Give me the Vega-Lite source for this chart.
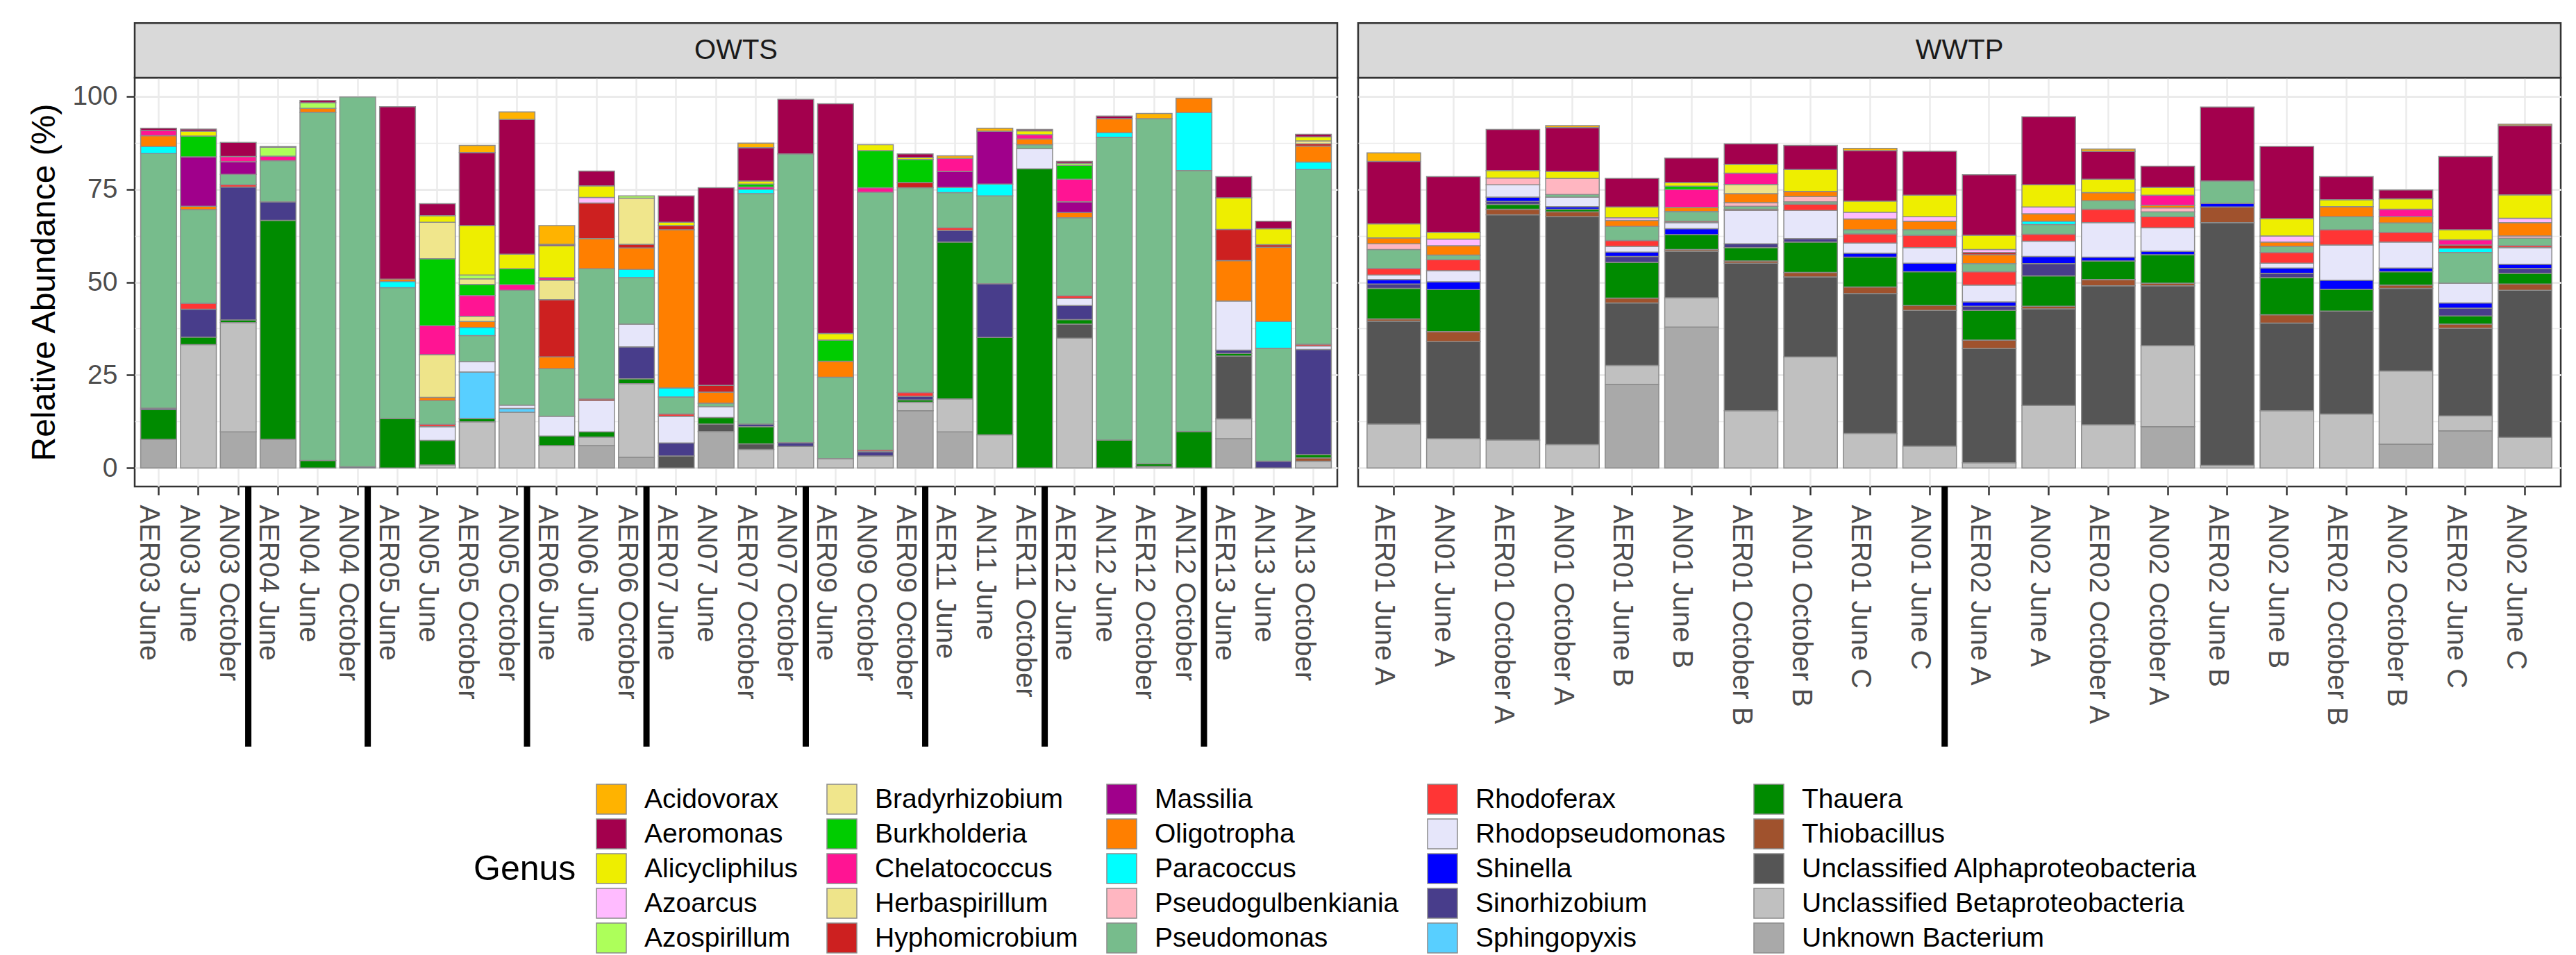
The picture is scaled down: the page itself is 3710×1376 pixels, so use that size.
{
"$schema": "https://vega.github.io/schema/vega-lite/v6.json",
"background": "white",
"padding": {"left": 39, "top": 30, "right": 10, "bottom": 10},
"config": {
 "font": "Liberation Sans",
 "view": {"stroke": "#333333", "strokeWidth": 2.5},
 "axis": {"domain": false, "grid": true, "gridColor": "#EBEBEB", "tickColor": "#333333", "tickWidth": 2.5, "tickSize": 12, "labelColor": "#4D4D4D", "labelFontSize": 39}
},
"datasets": {
"owts": [
{"Sample":"AER03 June","Genus":"Unknown Bacterium","Value":7.7},{"Sample":"AER03 June","Genus":"Thauera","Value":8.0},{"Sample":"AER03 June","Genus":"Sinorhizobium","Value":0.4},{"Sample":"AER03 June","Genus":"Pseudomonas","Value":68.5},{"Sample":"AER03 June","Genus":"Paracoccus","Value":1.9},{"Sample":"AER03 June","Genus":"Oligotropha","Value":2.9},{"Sample":"AER03 June","Genus":"Chelatococcus","Value":1.4},{"Sample":"AER03 June","Genus":"Aeromonas","Value":0.6},
{"Sample":"AN03 June","Genus":"Unclassified Betaproteobacteria","Value":33.2},{"Sample":"AN03 June","Genus":"Thauera","Value":2.0},{"Sample":"AN03 June","Genus":"Sinorhizobium","Value":7.5},{"Sample":"AN03 June","Genus":"Rhodoferax","Value":1.6},{"Sample":"AN03 June","Genus":"Pseudomonas","Value":25.2},{"Sample":"AN03 June","Genus":"Oligotropha","Value":0.9},{"Sample":"AN03 June","Genus":"Massilia","Value":13.3},{"Sample":"AN03 June","Genus":"Burkholderia","Value":5.6},{"Sample":"AN03 June","Genus":"Alicycliphilus","Value":1.3},{"Sample":"AN03 June","Genus":"Aeromonas","Value":0.6},
{"Sample":"AN03 October","Genus":"Unknown Bacterium","Value":9.7},{"Sample":"AN03 October","Genus":"Unclassified Betaproteobacteria","Value":29.4},{"Sample":"AN03 October","Genus":"Thauera","Value":0.7},{"Sample":"AN03 October","Genus":"Sinorhizobium","Value":35.8},{"Sample":"AN03 October","Genus":"Rhodoferax","Value":0.6},{"Sample":"AN03 October","Genus":"Pseudomonas","Value":2.8},{"Sample":"AN03 October","Genus":"Massilia","Value":3.4},{"Sample":"AN03 October","Genus":"Chelatococcus","Value":1.4},{"Sample":"AN03 October","Genus":"Aeromonas","Value":3.8},
{"Sample":"AER04 June","Genus":"Unknown Bacterium","Value":7.7},{"Sample":"AER04 June","Genus":"Thauera","Value":58.9},{"Sample":"AER04 June","Genus":"Sinorhizobium","Value":5.0},{"Sample":"AER04 June","Genus":"Pseudomonas","Value":11.1},{"Sample":"AER04 June","Genus":"Chelatococcus","Value":1.2},{"Sample":"AER04 June","Genus":"Azospirillum","Value":2.4},{"Sample":"AER04 June","Genus":"Aeromonas","Value":0.2},
{"Sample":"AN04 June","Genus":"Thauera","Value":2.0},{"Sample":"AN04 June","Genus":"Pseudomonas","Value":93.7},{"Sample":"AN04 June","Genus":"Oligotropha","Value":1.1},{"Sample":"AN04 June","Genus":"Azospirillum","Value":1.5},{"Sample":"AN04 June","Genus":"Aeromonas","Value":0.6},
{"Sample":"AN04 October","Genus":"Sinorhizobium","Value":0.3},{"Sample":"AN04 October","Genus":"Pseudomonas","Value":99.5},
{"Sample":"AER05 June","Genus":"Thauera","Value":13.3},{"Sample":"AER05 June","Genus":"Pseudomonas","Value":35.2},{"Sample":"AER05 June","Genus":"Paracoccus","Value":1.7},{"Sample":"AER05 June","Genus":"Oligotropha","Value":0.6},{"Sample":"AER05 June","Genus":"Aeromonas","Value":46.4},
{"Sample":"AN05 June","Genus":"Unclassified Betaproteobacteria","Value":0.8},{"Sample":"AN05 June","Genus":"Thauera","Value":6.6},{"Sample":"AN05 June","Genus":"Rhodopseudomonas","Value":3.7},{"Sample":"AN05 June","Genus":"Rhodoferax","Value":0.6},{"Sample":"AN05 June","Genus":"Pseudomonas","Value":6.4},{"Sample":"AN05 June","Genus":"Oligotropha","Value":0.9},{"Sample":"AN05 June","Genus":"Herbaspirillum","Value":11.5},{"Sample":"AN05 June","Genus":"Chelatococcus","Value":7.8},{"Sample":"AN05 June","Genus":"Burkholderia","Value":18.0},{"Sample":"AN05 June","Genus":"Bradyrhizobium","Value":9.8},{"Sample":"AN05 June","Genus":"Alicycliphilus","Value":1.8},{"Sample":"AN05 June","Genus":"Aeromonas","Value":3.2},
{"Sample":"AER05 October","Genus":"Unclassified Betaproteobacteria","Value":12.4},{"Sample":"AER05 October","Genus":"Thauera","Value":0.9},{"Sample":"AER05 October","Genus":"Sphingopyxis","Value":12.5},{"Sample":"AER05 October","Genus":"Rhodopseudomonas","Value":2.8},{"Sample":"AER05 October","Genus":"Pseudomonas","Value":7.0},{"Sample":"AER05 October","Genus":"Paracoccus","Value":2.2},{"Sample":"AER05 October","Genus":"Oligotropha","Value":1.6},{"Sample":"AER05 October","Genus":"Herbaspirillum","Value":1.4},{"Sample":"AER05 October","Genus":"Chelatococcus","Value":5.6},{"Sample":"AER05 October","Genus":"Burkholderia","Value":3.0},{"Sample":"AER05 October","Genus":"Bradyrhizobium","Value":1.5},{"Sample":"AER05 October","Genus":"Azospirillum","Value":1.0},{"Sample":"AER05 October","Genus":"Alicycliphilus","Value":13.3},{"Sample":"AER05 October","Genus":"Aeromonas","Value":19.7},{"Sample":"AER05 October","Genus":"Acidovorax","Value":1.9},
{"Sample":"AN05 October","Genus":"Unclassified Betaproteobacteria","Value":15.0},{"Sample":"AN05 October","Genus":"Sphingopyxis","Value":1.0},{"Sample":"AN05 October","Genus":"Rhodopseudomonas","Value":0.9},{"Sample":"AN05 October","Genus":"Pseudomonas","Value":30.9},{"Sample":"AN05 October","Genus":"Chelatococcus","Value":1.5},{"Sample":"AN05 October","Genus":"Burkholderia","Value":4.3},{"Sample":"AN05 October","Genus":"Alicycliphilus","Value":3.9},{"Sample":"AN05 October","Genus":"Aeromonas","Value":36.3},{"Sample":"AN05 October","Genus":"Acidovorax","Value":2.0},
{"Sample":"AER06 June","Genus":"Unclassified Betaproteobacteria","Value":6.0},{"Sample":"AER06 June","Genus":"Thauera","Value":2.6},{"Sample":"AER06 June","Genus":"Rhodopseudomonas","Value":5.3},{"Sample":"AER06 June","Genus":"Pseudomonas","Value":12.8},{"Sample":"AER06 June","Genus":"Oligotropha","Value":3.2},{"Sample":"AER06 June","Genus":"Hyphomicrobium","Value":15.4},{"Sample":"AER06 June","Genus":"Herbaspirillum","Value":5.2},{"Sample":"AER06 June","Genus":"Chelatococcus","Value":0.7},{"Sample":"AER06 June","Genus":"Alicycliphilus","Value":8.6},{"Sample":"AER06 June","Genus":"Aeromonas","Value":0.4},{"Sample":"AER06 June","Genus":"Acidovorax","Value":5.0},
{"Sample":"AN06 June","Genus":"Unknown Bacterium","Value":6.0},{"Sample":"AN06 June","Genus":"Unclassified Betaproteobacteria","Value":2.3},{"Sample":"AN06 June","Genus":"Thauera","Value":1.4},{"Sample":"AN06 June","Genus":"Rhodopseudomonas","Value":8.4},{"Sample":"AN06 June","Genus":"Rhodoferax","Value":0.5},{"Sample":"AN06 June","Genus":"Pseudomonas","Value":35.0},{"Sample":"AN06 June","Genus":"Oligotropha","Value":8.1},{"Sample":"AN06 June","Genus":"Hyphomicrobium","Value":9.6},{"Sample":"AN06 June","Genus":"Azoarcus","Value":1.5},{"Sample":"AN06 June","Genus":"Alicycliphilus","Value":3.1},{"Sample":"AN06 June","Genus":"Aeromonas","Value":4.0},
{"Sample":"AER06 October","Genus":"Unknown Bacterium","Value":2.9},{"Sample":"AER06 October","Genus":"Unclassified Betaproteobacteria","Value":19.8},{"Sample":"AER06 October","Genus":"Thauera","Value":1.3},{"Sample":"AER06 October","Genus":"Sinorhizobium","Value":8.6},{"Sample":"AER06 October","Genus":"Rhodopseudomonas","Value":6.1},{"Sample":"AER06 October","Genus":"Pseudomonas","Value":12.5},{"Sample":"AER06 October","Genus":"Paracoccus","Value":2.2},{"Sample":"AER06 October","Genus":"Oligotropha","Value":5.8},{"Sample":"AER06 October","Genus":"Hyphomicrobium","Value":1.0},{"Sample":"AER06 October","Genus":"Bradyrhizobium","Value":12.4},{"Sample":"AER06 October","Genus":"Azospirillum","Value":0.6},
{"Sample":"AER07 June","Genus":"Unclassified Alphaproteobacteria","Value":3.2},{"Sample":"AER07 June","Genus":"Sinorhizobium","Value":3.5},{"Sample":"AER07 June","Genus":"Rhodopseudomonas","Value":7.2},{"Sample":"AER07 June","Genus":"Rhodoferax","Value":0.6},{"Sample":"AER07 June","Genus":"Pseudomonas","Value":4.6},{"Sample":"AER07 June","Genus":"Paracoccus","Value":2.4},{"Sample":"AER07 June","Genus":"Oligotropha","Value":42.6},{"Sample":"AER07 June","Genus":"Hyphomicrobium","Value":1.1},{"Sample":"AER07 June","Genus":"Alicycliphilus","Value":0.9},{"Sample":"AER07 June","Genus":"Aeromonas","Value":7.1},
{"Sample":"AN07 June","Genus":"Unknown Bacterium","Value":9.8},{"Sample":"AN07 June","Genus":"Unclassified Alphaproteobacteria","Value":2.0},{"Sample":"AN07 June","Genus":"Thauera","Value":1.8},{"Sample":"AN07 June","Genus":"Rhodopseudomonas","Value":2.9},{"Sample":"AN07 June","Genus":"Pseudomonas","Value":0.9},{"Sample":"AN07 June","Genus":"Oligotropha","Value":3.0},{"Sample":"AN07 June","Genus":"Hyphomicrobium","Value":1.8},{"Sample":"AN07 June","Genus":"Aeromonas","Value":53.2},
{"Sample":"AER07 October","Genus":"Unclassified Betaproteobacteria","Value":5.0},{"Sample":"AER07 October","Genus":"Unclassified Alphaproteobacteria","Value":1.5},{"Sample":"AER07 October","Genus":"Thauera","Value":4.6},{"Sample":"AER07 October","Genus":"Sinorhizobium","Value":0.7},{"Sample":"AER07 October","Genus":"Pseudomonas","Value":62.0},{"Sample":"AER07 October","Genus":"Paracoccus","Value":1.2},{"Sample":"AER07 October","Genus":"Chelatococcus","Value":0.6},{"Sample":"AER07 October","Genus":"Burkholderia","Value":0.8},{"Sample":"AER07 October","Genus":"Alicycliphilus","Value":0.8},{"Sample":"AER07 October","Genus":"Aeromonas","Value":9.0},{"Sample":"AER07 October","Genus":"Acidovorax","Value":1.2},
{"Sample":"AN07 October","Genus":"Unclassified Betaproteobacteria","Value":5.8},{"Sample":"AN07 October","Genus":"Sinorhizobium","Value":1.0},{"Sample":"AN07 October","Genus":"Pseudomonas","Value":77.7},{"Sample":"AN07 October","Genus":"Aeromonas","Value":14.7},
{"Sample":"AER09 June","Genus":"Unclassified Betaproteobacteria","Value":2.5},{"Sample":"AER09 June","Genus":"Pseudomonas","Value":21.9},{"Sample":"AER09 June","Genus":"Oligotropha","Value":4.3},{"Sample":"AER09 June","Genus":"Burkholderia","Value":5.7},{"Sample":"AER09 June","Genus":"Alicycliphilus","Value":1.8},{"Sample":"AER09 June","Genus":"Aeromonas","Value":61.8},
{"Sample":"AN09 October","Genus":"Unclassified Betaproteobacteria","Value":3.2},{"Sample":"AN09 October","Genus":"Sinorhizobium","Value":1.2},{"Sample":"AN09 October","Genus":"Rhodoferax","Value":0.4},{"Sample":"AN09 October","Genus":"Pseudomonas","Value":69.4},{"Sample":"AN09 October","Genus":"Chelatococcus","Value":1.2},{"Sample":"AN09 October","Genus":"Burkholderia","Value":10.0},{"Sample":"AN09 October","Genus":"Alicycliphilus","Value":1.6},
{"Sample":"AER09 October","Genus":"Unknown Bacterium","Value":15.4},{"Sample":"AER09 October","Genus":"Unclassified Betaproteobacteria","Value":2.3},{"Sample":"AER09 October","Genus":"Thauera","Value":0.6},{"Sample":"AER09 October","Genus":"Sinorhizobium","Value":1.0},{"Sample":"AER09 October","Genus":"Rhodoferax","Value":1.0},{"Sample":"AER09 October","Genus":"Pseudomonas","Value":55.1},{"Sample":"AER09 October","Genus":"Hyphomicrobium","Value":1.4},{"Sample":"AER09 October","Genus":"Burkholderia","Value":6.2},{"Sample":"AER09 October","Genus":"Alicycliphilus","Value":0.5},{"Sample":"AER09 October","Genus":"Aeromonas","Value":1.0},
{"Sample":"AER11 June","Genus":"Unknown Bacterium","Value":9.7},{"Sample":"AER11 June","Genus":"Unclassified Betaproteobacteria","Value":8.9},{"Sample":"AER11 June","Genus":"Thauera","Value":42.2},{"Sample":"AER11 June","Genus":"Sinorhizobium","Value":3.1},{"Sample":"AER11 June","Genus":"Rhodoferax","Value":0.7},{"Sample":"AER11 June","Genus":"Pseudomonas","Value":9.5},{"Sample":"AER11 June","Genus":"Paracoccus","Value":1.4},{"Sample":"AER11 June","Genus":"Massilia","Value":4.3},{"Sample":"AER11 June","Genus":"Chelatococcus","Value":3.5},{"Sample":"AER11 June","Genus":"Acidovorax","Value":0.7},
{"Sample":"AN11 June","Genus":"Unclassified Betaproteobacteria","Value":8.9},{"Sample":"AN11 June","Genus":"Thauera","Value":26.2},{"Sample":"AN11 June","Genus":"Sinorhizobium","Value":14.5},{"Sample":"AN11 June","Genus":"Pseudomonas","Value":23.6},{"Sample":"AN11 June","Genus":"Paracoccus","Value":3.2},{"Sample":"AN11 June","Genus":"Massilia","Value":14.2},{"Sample":"AN11 June","Genus":"Acidovorax","Value":0.8},
{"Sample":"AER11 October","Genus":"Thauera","Value":80.5},{"Sample":"AER11 October","Genus":"Rhodopseudomonas","Value":5.4},{"Sample":"AER11 October","Genus":"Pseudomonas","Value":1.1},{"Sample":"AER11 October","Genus":"Oligotropha","Value":1.5},{"Sample":"AER11 October","Genus":"Chelatococcus","Value":1.2},{"Sample":"AER11 October","Genus":"Alicycliphilus","Value":1.0},{"Sample":"AER11 October","Genus":"Aeromonas","Value":0.4},
{"Sample":"AER12 June","Genus":"Unclassified Betaproteobacteria","Value":34.9},{"Sample":"AER12 June","Genus":"Unclassified Alphaproteobacteria","Value":3.8},{"Sample":"AER12 June","Genus":"Thauera","Value":1.2},{"Sample":"AER12 June","Genus":"Sinorhizobium","Value":3.8},{"Sample":"AER12 June","Genus":"Rhodopseudomonas","Value":1.9},{"Sample":"AER12 June","Genus":"Rhodoferax","Value":0.7},{"Sample":"AER12 June","Genus":"Pseudomonas","Value":21.0},{"Sample":"AER12 June","Genus":"Oligotropha","Value":1.4},{"Sample":"AER12 June","Genus":"Massilia","Value":2.9},{"Sample":"AER12 June","Genus":"Chelatococcus","Value":6.1},{"Sample":"AER12 June","Genus":"Burkholderia","Value":3.7},{"Sample":"AER12 June","Genus":"Azospirillum","Value":0.6},{"Sample":"AER12 June","Genus":"Aeromonas","Value":0.5},
{"Sample":"AN12 June","Genus":"Thauera","Value":7.5},{"Sample":"AN12 June","Genus":"Pseudomonas","Value":81.5},{"Sample":"AN12 June","Genus":"Paracoccus","Value":1.2},{"Sample":"AN12 June","Genus":"Oligotropha","Value":3.8},{"Sample":"AN12 June","Genus":"Aeromonas","Value":0.7},
{"Sample":"AER12 October","Genus":"Unclassified Betaproteobacteria","Value":0.4},{"Sample":"AER12 October","Genus":"Thauera","Value":0.7},{"Sample":"AER12 October","Genus":"Pseudomonas","Value":92.9},{"Sample":"AER12 October","Genus":"Acidovorax","Value":1.4},
{"Sample":"AN12 October","Genus":"Thauera","Value":9.8},{"Sample":"AN12 October","Genus":"Pseudomonas","Value":70.2},{"Sample":"AN12 October","Genus":"Paracoccus","Value":15.6},{"Sample":"AN12 October","Genus":"Oligotropha","Value":3.9},
{"Sample":"AER13 June","Genus":"Unknown Bacterium","Value":7.9},{"Sample":"AER13 June","Genus":"Unclassified Betaproteobacteria","Value":5.3},{"Sample":"AER13 June","Genus":"Unclassified Alphaproteobacteria","Value":16.9},{"Sample":"AER13 June","Genus":"Thauera","Value":0.7},{"Sample":"AER13 June","Genus":"Sinorhizobium","Value":0.9},{"Sample":"AER13 June","Genus":"Rhodopseudomonas","Value":13.2},{"Sample":"AER13 June","Genus":"Oligotropha","Value":10.9},{"Sample":"AER13 June","Genus":"Hyphomicrobium","Value":8.4},{"Sample":"AER13 June","Genus":"Alicycliphilus","Value":8.5},{"Sample":"AER13 June","Genus":"Aeromonas","Value":5.7},
{"Sample":"AN13 June","Genus":"Sinorhizobium","Value":1.8},{"Sample":"AN13 June","Genus":"Pseudomonas","Value":30.4},{"Sample":"AN13 June","Genus":"Paracoccus","Value":7.2},{"Sample":"AN13 June","Genus":"Oligotropha","Value":20.0},{"Sample":"AN13 June","Genus":"Hyphomicrobium","Value":0.7},{"Sample":"AN13 June","Genus":"Alicycliphilus","Value":4.3},{"Sample":"AN13 June","Genus":"Aeromonas","Value":2.0},
{"Sample":"AN13 October","Genus":"Unclassified Betaproteobacteria","Value":1.8},{"Sample":"AN13 October","Genus":"Thiobacillus","Value":0.9},{"Sample":"AN13 October","Genus":"Thauera","Value":0.9},{"Sample":"AN13 October","Genus":"Sinorhizobium","Value":28.3},{"Sample":"AN13 October","Genus":"Rhodopseudomonas","Value":0.9},{"Sample":"AN13 October","Genus":"Rhodoferax","Value":0.5},{"Sample":"AN13 October","Genus":"Pseudomonas","Value":47.0},{"Sample":"AN13 October","Genus":"Paracoccus","Value":2.0},{"Sample":"AN13 October","Genus":"Oligotropha","Value":4.3},{"Sample":"AN13 October","Genus":"Hyphomicrobium","Value":0.6},{"Sample":"AN13 October","Genus":"Bradyrhizobium","Value":0.8},{"Sample":"AN13 October","Genus":"Alicycliphilus","Value":1.1},{"Sample":"AN13 October","Genus":"Aeromonas","Value":0.7}
],
"wwtp": [
{"Sample":"AER01 June A","Genus":"Unclassified Betaproteobacteria","Value":11.8},{"Sample":"AER01 June A","Genus":"Unclassified Alphaproteobacteria","Value":27.7},{"Sample":"AER01 June A","Genus":"Thiobacillus","Value":0.6},{"Sample":"AER01 June A","Genus":"Thauera","Value":8.2},{"Sample":"AER01 June A","Genus":"Sinorhizobium","Value":1.2},{"Sample":"AER01 June A","Genus":"Shinella","Value":1.2},{"Sample":"AER01 June A","Genus":"Rhodopseudomonas","Value":1.2},{"Sample":"AER01 June A","Genus":"Rhodoferax","Value":1.8},{"Sample":"AER01 June A","Genus":"Pseudomonas","Value":5.1},{"Sample":"AER01 June A","Genus":"Pseudogulbenkiania","Value":1.5},{"Sample":"AER01 June A","Genus":"Oligotropha","Value":1.6},{"Sample":"AER01 June A","Genus":"Alicycliphilus","Value":3.8},{"Sample":"AER01 June A","Genus":"Aeromonas","Value":16.8},{"Sample":"AER01 June A","Genus":"Acidovorax","Value":2.3},
{"Sample":"AN01 June A","Genus":"Unclassified Betaproteobacteria","Value":7.9},{"Sample":"AN01 June A","Genus":"Unclassified Alphaproteobacteria","Value":26.1},{"Sample":"AN01 June A","Genus":"Thiobacillus","Value":2.7},{"Sample":"AN01 June A","Genus":"Thauera","Value":11.3},{"Sample":"AN01 June A","Genus":"Shinella","Value":2.1},{"Sample":"AN01 June A","Genus":"Rhodopseudomonas","Value":3.0},{"Sample":"AN01 June A","Genus":"Rhodoferax","Value":2.9},{"Sample":"AN01 June A","Genus":"Pseudomonas","Value":1.3},{"Sample":"AN01 June A","Genus":"Oligotropha","Value":2.5},{"Sample":"AN01 June A","Genus":"Azoarcus","Value":1.8},{"Sample":"AN01 June A","Genus":"Alicycliphilus","Value":1.8},{"Sample":"AN01 June A","Genus":"Aeromonas","Value":15.0},
{"Sample":"AER01 October A","Genus":"Unclassified Betaproteobacteria","Value":7.5},{"Sample":"AER01 October A","Genus":"Unclassified Alphaproteobacteria","Value":60.6},{"Sample":"AER01 October A","Genus":"Thiobacillus","Value":1.5},{"Sample":"AER01 October A","Genus":"Thauera","Value":1.3},{"Sample":"AER01 October A","Genus":"Sinorhizobium","Value":0.8},{"Sample":"AER01 October A","Genus":"Shinella","Value":1.2},{"Sample":"AER01 October A","Genus":"Rhodopseudomonas","Value":3.3},{"Sample":"AER01 October A","Genus":"Pseudogulbenkiania","Value":1.8},{"Sample":"AER01 October A","Genus":"Alicycliphilus","Value":2.0},{"Sample":"AER01 October A","Genus":"Aeromonas","Value":11.1},
{"Sample":"AN01 October A","Genus":"Unclassified Betaproteobacteria","Value":6.3},{"Sample":"AN01 October A","Genus":"Unclassified Alphaproteobacteria","Value":61.3},{"Sample":"AN01 October A","Genus":"Thiobacillus","Value":1.3},{"Sample":"AN01 October A","Genus":"Thauera","Value":0.7},{"Sample":"AN01 October A","Genus":"Shinella","Value":0.7},{"Sample":"AN01 October A","Genus":"Rhodopseudomonas","Value":2.6},{"Sample":"AN01 October A","Genus":"Pseudomonas","Value":0.7},{"Sample":"AN01 October A","Genus":"Pseudogulbenkiania","Value":4.3},{"Sample":"AN01 October A","Genus":"Alicycliphilus","Value":1.9},{"Sample":"AN01 October A","Genus":"Aeromonas","Value":11.8},{"Sample":"AN01 October A","Genus":"Acidovorax","Value":0.5},
{"Sample":"AER01 June B","Genus":"Unknown Bacterium","Value":22.5},{"Sample":"AER01 June B","Genus":"Unclassified Betaproteobacteria","Value":5.1},{"Sample":"AER01 June B","Genus":"Unclassified Alphaproteobacteria","Value":16.8},{"Sample":"AER01 June B","Genus":"Thiobacillus","Value":1.3},{"Sample":"AER01 June B","Genus":"Thauera","Value":9.6},{"Sample":"AER01 June B","Genus":"Sinorhizobium","Value":1.6},{"Sample":"AER01 June B","Genus":"Shinella","Value":1.2},{"Sample":"AER01 June B","Genus":"Rhodopseudomonas","Value":1.5},{"Sample":"AER01 June B","Genus":"Rhodoferax","Value":1.6},{"Sample":"AER01 June B","Genus":"Pseudomonas","Value":3.8},{"Sample":"AER01 June B","Genus":"Oligotropha","Value":1.6},{"Sample":"AER01 June B","Genus":"Azoarcus","Value":0.7},{"Sample":"AER01 June B","Genus":"Alicycliphilus","Value":2.9},{"Sample":"AER01 June B","Genus":"Aeromonas","Value":7.7},
{"Sample":"AN01 June B","Genus":"Unknown Bacterium","Value":37.9},{"Sample":"AN01 June B","Genus":"Unclassified Betaproteobacteria","Value":7.9},{"Sample":"AN01 June B","Genus":"Unclassified Alphaproteobacteria","Value":12.5},{"Sample":"AN01 June B","Genus":"Thiobacillus","Value":0.5},{"Sample":"AN01 June B","Genus":"Thauera","Value":4.0},{"Sample":"AN01 June B","Genus":"Shinella","Value":1.6},{"Sample":"AN01 June B","Genus":"Rhodopseudomonas","Value":1.6},{"Sample":"AN01 June B","Genus":"Rhodoferax","Value":0.4},{"Sample":"AN01 June B","Genus":"Pseudomonas","Value":2.6},{"Sample":"AN01 June B","Genus":"Oligotropha","Value":1.1},{"Sample":"AN01 June B","Genus":"Chelatococcus","Value":4.8},{"Sample":"AN01 June B","Genus":"Burkholderia","Value":0.9},{"Sample":"AN01 June B","Genus":"Alicycliphilus","Value":1.0},{"Sample":"AN01 June B","Genus":"Aeromonas","Value":6.6},
{"Sample":"AER01 October B","Genus":"Unclassified Betaproteobacteria","Value":15.4},{"Sample":"AER01 October B","Genus":"Unclassified Alphaproteobacteria","Value":39.7},{"Sample":"AER01 October B","Genus":"Thiobacillus","Value":0.6},{"Sample":"AER01 October B","Genus":"Thauera","Value":3.6},{"Sample":"AER01 October B","Genus":"Sinorhizobium","Value":1.0},{"Sample":"AER01 October B","Genus":"Rhodopseudomonas","Value":9.0},{"Sample":"AER01 October B","Genus":"Rhodoferax","Value":0.3},{"Sample":"AER01 October B","Genus":"Pseudomonas","Value":0.8},{"Sample":"AER01 October B","Genus":"Pseudogulbenkiania","Value":1.0},{"Sample":"AER01 October B","Genus":"Oligotropha","Value":2.4},{"Sample":"AER01 October B","Genus":"Herbaspirillum","Value":2.5},{"Sample":"AER01 October B","Genus":"Chelatococcus","Value":3.0},{"Sample":"AER01 October B","Genus":"Alicycliphilus","Value":2.4},{"Sample":"AER01 October B","Genus":"Aeromonas","Value":5.5},
{"Sample":"AN01 October B","Genus":"Unclassified Betaproteobacteria","Value":29.9},{"Sample":"AN01 October B","Genus":"Unclassified Alphaproteobacteria","Value":21.5},{"Sample":"AN01 October B","Genus":"Thiobacillus","Value":1.2},{"Sample":"AN01 October B","Genus":"Thauera","Value":8.2},{"Sample":"AN01 October B","Genus":"Sinorhizobium","Value":0.9},{"Sample":"AN01 October B","Genus":"Rhodopseudomonas","Value":7.6},{"Sample":"AN01 October B","Genus":"Rhodoferax","Value":1.7},{"Sample":"AN01 October B","Genus":"Pseudomonas","Value":0.6},{"Sample":"AN01 October B","Genus":"Pseudogulbenkiania","Value":1.4},{"Sample":"AN01 October B","Genus":"Oligotropha","Value":1.4},{"Sample":"AN01 October B","Genus":"Alicycliphilus","Value":5.9},{"Sample":"AN01 October B","Genus":"Aeromonas","Value":6.5},
{"Sample":"AER01 June C","Genus":"Unclassified Betaproteobacteria","Value":9.3},{"Sample":"AER01 June C","Genus":"Unclassified Alphaproteobacteria","Value":37.6},{"Sample":"AER01 June C","Genus":"Thiobacillus","Value":1.8},{"Sample":"AER01 June C","Genus":"Thauera","Value":8.0},{"Sample":"AER01 June C","Genus":"Shinella","Value":1.1},{"Sample":"AER01 June C","Genus":"Rhodopseudomonas","Value":2.7},{"Sample":"AER01 June C","Genus":"Rhodoferax","Value":2.5},{"Sample":"AER01 June C","Genus":"Pseudomonas","Value":1.1},{"Sample":"AER01 June C","Genus":"Oligotropha","Value":2.9},{"Sample":"AER01 June C","Genus":"Azoarcus","Value":1.8},{"Sample":"AER01 June C","Genus":"Alicycliphilus","Value":3.0},{"Sample":"AER01 June C","Genus":"Aeromonas","Value":13.6},{"Sample":"AER01 June C","Genus":"Acidovorax","Value":0.6},
{"Sample":"AN01 June C","Genus":"Unclassified Betaproteobacteria","Value":5.9},{"Sample":"AN01 June C","Genus":"Unclassified Alphaproteobacteria","Value":36.5},{"Sample":"AN01 June C","Genus":"Thiobacillus","Value":1.3},{"Sample":"AN01 June C","Genus":"Thauera","Value":9.1},{"Sample":"AN01 June C","Genus":"Shinella","Value":2.3},{"Sample":"AN01 June C","Genus":"Rhodopseudomonas","Value":4.2},{"Sample":"AN01 June C","Genus":"Rhodoferax","Value":3.3},{"Sample":"AN01 June C","Genus":"Pseudomonas","Value":1.5},{"Sample":"AN01 June C","Genus":"Oligotropha","Value":2.3},{"Sample":"AN01 June C","Genus":"Azoarcus","Value":1.2},{"Sample":"AN01 June C","Genus":"Alicycliphilus","Value":5.8},{"Sample":"AN01 June C","Genus":"Aeromonas","Value":11.8},
{"Sample":"AER02 June A","Genus":"Unclassified Betaproteobacteria","Value":1.4},{"Sample":"AER02 June A","Genus":"Unclassified Alphaproteobacteria","Value":30.7},{"Sample":"AER02 June A","Genus":"Thiobacillus","Value":2.3},{"Sample":"AER02 June A","Genus":"Thauera","Value":8.0},{"Sample":"AER02 June A","Genus":"Sinorhizobium","Value":1.1},{"Sample":"AER02 June A","Genus":"Shinella","Value":1.2},{"Sample":"AER02 June A","Genus":"Rhodopseudomonas","Value":4.5},{"Sample":"AER02 June A","Genus":"Rhodoferax","Value":3.6},{"Sample":"AER02 June A","Genus":"Pseudomonas","Value":2.2},{"Sample":"AER02 June A","Genus":"Oligotropha","Value":2.4},{"Sample":"AER02 June A","Genus":"Hyphomicrobium","Value":0.6},{"Sample":"AER02 June A","Genus":"Azoarcus","Value":0.8},{"Sample":"AER02 June A","Genus":"Alicycliphilus","Value":3.8},{"Sample":"AER02 June A","Genus":"Aeromonas","Value":16.3},
{"Sample":"AN02 June A","Genus":"Unclassified Betaproteobacteria","Value":16.8},{"Sample":"AN02 June A","Genus":"Unclassified Alphaproteobacteria","Value":26.0},{"Sample":"AN02 June A","Genus":"Thiobacillus","Value":0.7},{"Sample":"AN02 June A","Genus":"Thauera","Value":8.2},{"Sample":"AN02 June A","Genus":"Sinorhizobium","Value":3.3},{"Sample":"AN02 June A","Genus":"Shinella","Value":1.9},{"Sample":"AN02 June A","Genus":"Rhodopseudomonas","Value":4.1},{"Sample":"AN02 June A","Genus":"Rhodoferax","Value":1.9},{"Sample":"AN02 June A","Genus":"Pseudomonas","Value":2.6},{"Sample":"AN02 June A","Genus":"Paracoccus","Value":0.9},{"Sample":"AN02 June A","Genus":"Oligotropha","Value":2.0},{"Sample":"AN02 June A","Genus":"Azoarcus","Value":1.8},{"Sample":"AN02 June A","Genus":"Alicycliphilus","Value":6.0},{"Sample":"AN02 June A","Genus":"Aeromonas","Value":18.3},
{"Sample":"AER02 October A","Genus":"Unclassified Betaproteobacteria","Value":11.6},{"Sample":"AER02 October A","Genus":"Unclassified Alphaproteobacteria","Value":37.4},{"Sample":"AER02 October A","Genus":"Thiobacillus","Value":1.7},{"Sample":"AER02 October A","Genus":"Thauera","Value":5.0},{"Sample":"AER02 October A","Genus":"Shinella","Value":1.0},{"Sample":"AER02 October A","Genus":"Rhodopseudomonas","Value":9.3},{"Sample":"AER02 October A","Genus":"Rhodoferax","Value":3.6},{"Sample":"AER02 October A","Genus":"Pseudomonas","Value":2.3},{"Sample":"AER02 October A","Genus":"Oligotropha","Value":2.2},{"Sample":"AER02 October A","Genus":"Alicycliphilus","Value":3.6},{"Sample":"AER02 October A","Genus":"Aeromonas","Value":7.5},{"Sample":"AER02 October A","Genus":"Acidovorax","Value":0.6},
{"Sample":"AN02 October A","Genus":"Unknown Bacterium","Value":11.1},{"Sample":"AN02 October A","Genus":"Unclassified Betaproteobacteria","Value":21.8},{"Sample":"AN02 October A","Genus":"Unclassified Alphaproteobacteria","Value":16.1},{"Sample":"AN02 October A","Genus":"Thiobacillus","Value":0.7},{"Sample":"AN02 October A","Genus":"Thauera","Value":7.7},{"Sample":"AN02 October A","Genus":"Shinella","Value":0.9},{"Sample":"AN02 October A","Genus":"Rhodopseudomonas","Value":6.3},{"Sample":"AN02 October A","Genus":"Rhodoferax","Value":3.0},{"Sample":"AN02 October A","Genus":"Pseudomonas","Value":1.3},{"Sample":"AN02 October A","Genus":"Pseudogulbenkiania","Value":1.1},{"Sample":"AN02 October A","Genus":"Oligotropha","Value":0.7},{"Sample":"AN02 October A","Genus":"Chelatococcus","Value":2.7},{"Sample":"AN02 October A","Genus":"Alicycliphilus","Value":2.1},{"Sample":"AN02 October A","Genus":"Aeromonas","Value":5.7},
{"Sample":"AER02 June B","Genus":"Unclassified Betaproteobacteria","Value":0.7},{"Sample":"AER02 June B","Genus":"Unclassified Alphaproteobacteria","Value":65.3},{"Sample":"AER02 June B","Genus":"Thiobacillus","Value":4.2},{"Sample":"AER02 June B","Genus":"Shinella","Value":1.0},{"Sample":"AER02 June B","Genus":"Pseudomonas","Value":6.0},{"Sample":"AER02 June B","Genus":"Aeromonas","Value":19.9},
{"Sample":"AN02 June B","Genus":"Unclassified Betaproteobacteria","Value":15.4},{"Sample":"AN02 June B","Genus":"Unclassified Alphaproteobacteria","Value":23.6},{"Sample":"AN02 June B","Genus":"Thiobacillus","Value":2.2},{"Sample":"AN02 June B","Genus":"Thauera","Value":10.0},{"Sample":"AN02 June B","Genus":"Sinorhizobium","Value":1.2},{"Sample":"AN02 June B","Genus":"Shinella","Value":1.4},{"Sample":"AN02 June B","Genus":"Rhodopseudomonas","Value":1.3},{"Sample":"AN02 June B","Genus":"Rhodoferax","Value":2.9},{"Sample":"AN02 June B","Genus":"Pseudomonas","Value":1.6},{"Sample":"AN02 June B","Genus":"Oligotropha","Value":1.2},{"Sample":"AN02 June B","Genus":"Azoarcus","Value":1.6},{"Sample":"AN02 June B","Genus":"Alicycliphilus","Value":4.7},{"Sample":"AN02 June B","Genus":"Aeromonas","Value":19.4},
{"Sample":"AER02 October B","Genus":"Unclassified Betaproteobacteria","Value":14.5},{"Sample":"AER02 October B","Genus":"Unclassified Alphaproteobacteria","Value":27.7},{"Sample":"AER02 October B","Genus":"Thauera","Value":5.9},{"Sample":"AER02 October B","Genus":"Shinella","Value":2.4},{"Sample":"AER02 October B","Genus":"Rhodopseudomonas","Value":9.5},{"Sample":"AER02 October B","Genus":"Rhodoferax","Value":4.1},{"Sample":"AER02 October B","Genus":"Pseudomonas","Value":3.5},{"Sample":"AER02 October B","Genus":"Oligotropha","Value":2.7},{"Sample":"AER02 October B","Genus":"Alicycliphilus","Value":1.9},{"Sample":"AER02 October B","Genus":"Aeromonas","Value":6.2},
{"Sample":"AN02 October B","Genus":"Unknown Bacterium","Value":6.4},{"Sample":"AN02 October B","Genus":"Unclassified Betaproteobacteria","Value":19.7},{"Sample":"AN02 October B","Genus":"Unclassified Alphaproteobacteria","Value":22.2},{"Sample":"AN02 October B","Genus":"Thiobacillus","Value":0.9},{"Sample":"AN02 October B","Genus":"Thauera","Value":3.6},{"Sample":"AN02 October B","Genus":"Shinella","Value":1.0},{"Sample":"AN02 October B","Genus":"Rhodopseudomonas","Value":7.0},{"Sample":"AN02 October B","Genus":"Rhodoferax","Value":2.6},{"Sample":"AN02 October B","Genus":"Pseudomonas","Value":2.5},{"Sample":"AN02 October B","Genus":"Oligotropha","Value":1.7},{"Sample":"AN02 October B","Genus":"Chelatococcus","Value":2.0},{"Sample":"AN02 October B","Genus":"Alicycliphilus","Value":2.8},{"Sample":"AN02 October B","Genus":"Aeromonas","Value":2.4},
{"Sample":"AER02 June C","Genus":"Unknown Bacterium","Value":10.0},{"Sample":"AER02 June C","Genus":"Unclassified Betaproteobacteria","Value":4.0},{"Sample":"AER02 June C","Genus":"Unclassified Alphaproteobacteria","Value":23.6},{"Sample":"AER02 June C","Genus":"Thiobacillus","Value":1.1},{"Sample":"AER02 June C","Genus":"Thauera","Value":2.2},{"Sample":"AER02 June C","Genus":"Sinorhizobium","Value":2.1},{"Sample":"AER02 June C","Genus":"Shinella","Value":1.4},{"Sample":"AER02 June C","Genus":"Rhodopseudomonas","Value":5.3},{"Sample":"AER02 June C","Genus":"Pseudomonas","Value":8.3},{"Sample":"AER02 June C","Genus":"Paracoccus","Value":1.1},{"Sample":"AER02 June C","Genus":"Hyphomicrobium","Value":0.9},{"Sample":"AER02 June C","Genus":"Chelatococcus","Value":1.4},{"Sample":"AER02 June C","Genus":"Alicycliphilus","Value":2.7},{"Sample":"AER02 June C","Genus":"Aeromonas","Value":19.7},
{"Sample":"AN02 June C","Genus":"Unclassified Betaproteobacteria","Value":8.2},{"Sample":"AN02 June C","Genus":"Unclassified Alphaproteobacteria","Value":39.6},{"Sample":"AN02 June C","Genus":"Thiobacillus","Value":1.7},{"Sample":"AN02 June C","Genus":"Thauera","Value":2.9},{"Sample":"AN02 June C","Genus":"Sinorhizobium","Value":1.3},{"Sample":"AN02 June C","Genus":"Shinella","Value":1.1},{"Sample":"AN02 June C","Genus":"Rhodopseudomonas","Value":4.5},{"Sample":"AN02 June C","Genus":"Rhodoferax","Value":0.5},{"Sample":"AN02 June C","Genus":"Pseudomonas","Value":2.0},{"Sample":"AN02 June C","Genus":"Pseudogulbenkiania","Value":0.6},{"Sample":"AN02 June C","Genus":"Oligotropha","Value":3.6},{"Sample":"AN02 June C","Genus":"Azoarcus","Value":1.2},{"Sample":"AN02 June C","Genus":"Alicycliphilus","Value":6.3},{"Sample":"AN02 June C","Genus":"Aeromonas","Value":18.6},{"Sample":"AN02 June C","Genus":"Acidovorax","Value":0.4}
]
},
"spacing": 24,
"resolve": {"scale": {"x": "independent", "color": "shared"}},
"hconcat": [
{
 "width": 1732, "height": 589,
 "layer": [
  {"data": {"values": [{"Site": "OWTS"}]},
   "mark": {"type": "rect", "fill": "#D9D9D9", "stroke": "#333333", "strokeWidth": 2.5},
   "encoding": {"y": {"datum": 105, "type": "quantitative", "scale": {"domain": [-5, 105], "nice": false, "zero": false}}, "y2": {"datum": 119.7}}},
  {"data": {"values": [{"Site": "OWTS"}]},
   "mark": {"type": "text", "fontSize": 40, "color": "#1A1A1A", "baseline": "middle", "align": "center"},
   "encoding": {"text": {"field": "Site"}, "y": {"datum": 112.35, "type": "quantitative"}}},
  {"data": {"name": "owts"},
   "mark": {"type": "bar", "stroke": "#8C8C8C", "strokeWidth": 1.5},
   "encoding": {
    "x": {"field": "Sample", "type": "nominal",
     "scale": {"domain": ["AER03 June","AN03 June","AN03 October","AER04 June","AN04 June","AN04 October","AER05 June","AN05 June","AER05 October","AN05 October","AER06 June","AN06 June","AER06 October","AER07 June","AN07 June","AER07 October","AN07 October","AER09 June","AN09 October","AER09 October","AER11 June","AN11 June","AER11 October","AER12 June","AN12 June","AER12 October","AN12 October","AER13 June","AN13 June","AN13 October"], "paddingInner": 0.1, "paddingOuter": 0.15},
     "axis": {"title": null, "labelAngle": 90, "labelFontSize": 40, "labelOffset": -14, "labelPadding": 14, "bandPosition": 0.5, "grid": true, "gridWidth": 2.5, "labelLimit": 1000}},
    "y": {"field": "Value", "type": "quantitative", "stack": "zero",
     "scale": {"domain": [-5, 105], "nice": false, "zero": false},
     "axis": {"title": "Relative Abundance (%)", "titleFontSize": 48, "titleFontWeight": "normal", "titleColor": "#000000", "titlePadding": 15,
      "values": [0, 12.5, 25, 37.5, 50, 62.5, 75, 87.5, 100],
      "labelExpr": "datum.value % 25 == 0 ? datum.label : ''",
      "tickOpacity": {"condition": {"test": "datum.value % 25 != 0", "value": 0}, "value": 1},
      "gridWidth": {"condition": {"test": "datum.value % 25 != 0", "value": 1.5}, "value": 3},
      "labelPadding": 13, "labelOverlap": false}},
    "color": {"field": "Genus", "type": "nominal",
     "scale": {
      "domain": ["Acidovorax","Aeromonas","Alicycliphilus","Azoarcus","Azospirillum","Bradyrhizobium","Burkholderia","Chelatococcus","Herbaspirillum","Hyphomicrobium","Massilia","Oligotropha","Paracoccus","Pseudogulbenkiania","Pseudomonas","Rhodoferax","Rhodopseudomonas","Shinella","Sinorhizobium","Sphingopyxis","Thauera","Thiobacillus","Unclassified Alphaproteobacteria","Unclassified Betaproteobacteria","Unknown Bacterium"],
      "range": ["#FFB300","#A3004D","#EEEE00","#FFBBFF","#ADFF5A","#F0E68C","#00CC00","#FF1493","#EEE48A","#CD2020","#A0008B","#FF7F00","#00FFFF","#FFB6C1","#77BC8C","#FF3535","#E6E6FA","#0000FF","#483D8B","#58CFFF","#008B00","#A0522D","#555555","#C0C0C0","#A9A9A9"]},
     "legend": {"title": "Genus", "orient": "none", "legendX": 488, "legendY": 1017, "columns": 5, "titleOrient": "left", "titleAnchor": "middle", "titleAngle": 0, "titleBaseline": "middle", "titleFontSize": 50, "titleFontWeight": "normal", "titleColor": "#000000", "titlePadding": 28, "labelFontSize": 39, "labelColor": "#000000", "labelLimit": 2000, "labelOffset": 25, "symbolType": "square", "symbolSize": 1849, "symbolStrokeColor": "#8C8C8C", "symbolStrokeWidth": 1.5, "symbolOpacity": 1, "columnPadding": 38, "rowPadding": 1}},
    "order": {"field": "Genus", "type": "nominal", "sort": "descending"}
   }},
  {"data": {"values": [{"Sample": "AN03 October"},{"Sample": "AN04 October"},{"Sample": "AN05 October"},{"Sample": "AER06 October"},{"Sample": "AN07 October"},{"Sample": "AER09 October"},{"Sample": "AER11 October"},{"Sample": "AN12 October"}]},
   "mark": {"type": "rule", "color": "#000000", "strokeWidth": 9},
   "encoding": {"x": {"field": "Sample", "type": "nominal", "bandPosition": 0.78}, "y": {"datum": -5, "type": "quantitative"}, "y2": {"datum": -75}}}
 ]
},
{
 "width": 1732, "height": 589,
 "layer": [
  {"data": {"values": [{"Site": "WWTP"}]},
   "mark": {"type": "rect", "fill": "#D9D9D9", "stroke": "#333333", "strokeWidth": 2.5},
   "encoding": {"y": {"datum": 105, "type": "quantitative", "scale": {"domain": [-5, 105], "nice": false, "zero": false}}, "y2": {"datum": 119.7}}},
  {"data": {"values": [{"Site": "WWTP"}]},
   "mark": {"type": "text", "fontSize": 40, "color": "#1A1A1A", "baseline": "middle", "align": "center"},
   "encoding": {"text": {"field": "Site"}, "y": {"datum": 112.35, "type": "quantitative"}}},
  {"data": {"name": "wwtp"},
   "mark": {"type": "bar", "stroke": "#8C8C8C", "strokeWidth": 1.5},
   "encoding": {
    "x": {"field": "Sample", "type": "nominal",
     "scale": {"domain": ["AER01 June A","AN01 June A","AER01 October A","AN01 October A","AER01 June B","AN01 June B","AER01 October B","AN01 October B","AER01 June C","AN01 June C","AER02 June A","AN02 June A","AER02 October A","AN02 October A","AER02 June B","AN02 June B","AER02 October B","AN02 October B","AER02 June C","AN02 June C"], "paddingInner": 0.1, "paddingOuter": 0.15},
     "axis": {"title": null, "labelAngle": 90, "labelFontSize": 40, "labelOffset": -14, "labelPadding": 14, "bandPosition": 0.5, "grid": true, "gridWidth": 2.5, "labelLimit": 1000}},
    "y": {"field": "Value", "type": "quantitative", "stack": "zero",
     "scale": {"domain": [-5, 105], "nice": false, "zero": false},
     "axis": {"title": null, "labels": false, "ticks": false, "minExtent": 0,
      "values": [0, 12.5, 25, 37.5, 50, 62.5, 75, 87.5, 100],
      "gridWidth": {"condition": {"test": "datum.value % 25 != 0", "value": 1.5}, "value": 3}}},
    "color": {"field": "Genus", "type": "nominal",
     "legend": {"title": "Genus", "orient": "none", "legendX": 488, "legendY": 1017, "columns": 5, "titleOrient": "left", "titleAnchor": "middle", "titleAngle": 0, "titleBaseline": "middle", "titleFontSize": 50, "titleFontWeight": "normal", "titleColor": "#000000", "titlePadding": 28, "labelFontSize": 39, "labelColor": "#000000", "labelLimit": 2000, "labelOffset": 25, "symbolType": "square", "symbolSize": 1849, "symbolStrokeColor": "#8C8C8C", "symbolStrokeWidth": 1.5, "symbolOpacity": 1, "columnPadding": 38, "rowPadding": 1}},
    "order": {"field": "Genus", "type": "nominal", "sort": "descending"}
   }},
  {"data": {"values": [{"Sample": "AN01 June C"}]},
   "mark": {"type": "rule", "color": "#000000", "strokeWidth": 9},
   "encoding": {"x": {"field": "Sample", "type": "nominal", "bandPosition": 0.78}, "y": {"datum": -5, "type": "quantitative"}, "y2": {"datum": -75}}}
 ]
}
]
}
